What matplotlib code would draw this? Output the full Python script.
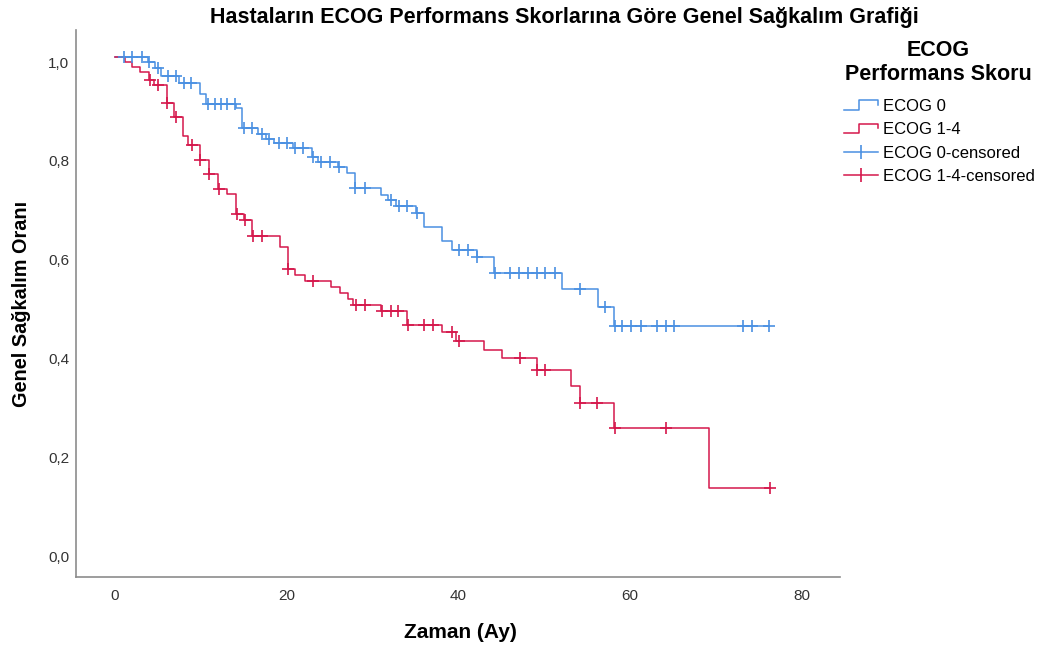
import numpy as np
import matplotlib
matplotlib.use("Agg")
import matplotlib.pyplot as plt
import matplotlib.transforms as mtransforms
from matplotlib.lines import Line2D
from matplotlib.legend_handler import HandlerBase

plt.rcParams['font.family'] = ['Liberation Sans', 'DejaVu Sans']

# Kaplan-Meier estimates per group: step times, survival after each step, censor times
ecog0_times = [3.9, 4.65, 5.4, 7.5, 9.9, 10.6, 14.1, 14.8, 16.7, 17.6, 18.5, 20.7, 22.9,
               23.6, 26.0, 27.0, 27.9, 31.0, 31.8, 32.7, 35.0, 36.0, 38.1, 39.2, 42.1,
               44.1, 52.1, 56.2, 58.1]
ecog0_surv = [0.989, 0.977, 0.962, 0.948, 0.925, 0.905, 0.897, 0.857, 0.845, 0.835, 0.826,
              0.816, 0.798, 0.788, 0.778, 0.766, 0.734, 0.721, 0.711, 0.698, 0.685, 0.655,
              0.627, 0.609, 0.595, 0.563, 0.531, 0.494, 0.455]
ecog0_censored = [1.0, 2.0, 3.1, 4.0, 5.0, 6.2, 7.1, 8.0, 8.9, 10.85, 11.6, 12.4, 13.0, 14.0,
                  15.0, 16.0, 17.1, 17.9, 19.1, 20.0, 21.0, 21.9, 23.1, 24.0, 25.0, 26.1,
                  28.0, 29.1, 32.2, 33.1, 34.0, 35.2, 40.1, 41.1, 42.2, 44.2, 46.0, 47.1,
                  48.1, 49.1, 50.1, 51.2, 54.2, 57.1, 58.2, 59.1, 60.1, 61.2, 63.1, 64.2,
                  65.1, 73.1, 74.2, 76.2]

ecog14_times = [1.2, 2.0, 2.9, 4.0, 4.6, 6.0, 6.9, 7.9, 8.5, 9.9, 10.9, 12.0, 13.0, 14.1,
                15.0, 16.0, 19.2, 20.1, 21.0, 22.1, 25.1, 26.2, 27.1, 27.7, 31.0, 34.0,
                38.1, 39.7, 43.0, 45.1, 49.1, 53.1, 54.1, 58.1, 69.2]
ecog14_surv = [0.990, 0.980, 0.970, 0.953, 0.943, 0.907, 0.878, 0.840, 0.822, 0.792, 0.763,
               0.733, 0.723, 0.683, 0.670, 0.638, 0.616, 0.571, 0.559, 0.547, 0.534, 0.522,
               0.510, 0.498, 0.486, 0.458, 0.443, 0.426, 0.407, 0.390, 0.366, 0.334, 0.300,
               0.250, 0.127]
ecog14_censored = [4.1, 5.0, 6.1, 7.1, 9.0, 9.95, 11.0, 12.1, 14.2, 15.1, 16.1, 17.1, 20.2,
                   23.1, 28.1, 29.1, 31.1, 32.1, 33.0, 34.1, 36.0, 37.0, 39.2, 40.1, 47.2,
                   49.2, 50.1, 54.2, 56.1, 58.2, 64.2, 76.3]

group_labels = ['ECOG 0', 'ECOG 1-4']
group_colors = ['#4a90e2', '#d5174b']

x_ticks = [0, 20, 40, 60, 80]
y_ticks = [0.0, 0.2, 0.4, 0.6, 0.8, 1.0]


def km_curve(times, surv, censored):
    t = np.concatenate([[0.0], times, [max(censored)]])
    s = np.concatenate([[1.0], surv, [surv[-1]]])
    idx = np.searchsorted(times, censored, side='right')
    s_c = np.concatenate([[1.0], surv])[idx]
    return t, s, np.asarray(censored), s_c


class StepHandler(HandlerBase):
    def create_artists(self, legend, orig_handle, xdescent, ydescent, width, height,
                       fontsize, trans):
        x0, y0 = -xdescent, -ydescent
        lo, hi = y0 + height * 0.05, y0 + height * 0.95
        xs = [x0, x0 + width * 0.45, x0 + width * 0.45, x0 + width, x0 + width]
        ys = [lo, lo, hi, hi, y0 + height * 0.5]
        ln = Line2D(xs, ys, color=orig_handle.get_color(), lw=1.1, transform=trans)
        return [ln]


fig = plt.figure(figsize=(10.46, 6.52), dpi=100)
ax = fig.add_axes([76 / 1046, 1 - 577 / 652, (840 - 76) / 1046, (577 - 30) / 652])

groups = [(ecog0_times, ecog0_surv, ecog0_censored),
          (ecog14_times, ecog14_surv, ecog14_censored)]
for (tm, sv, cz), color in zip(groups, group_colors):
    t, s, tc, sc = km_curve(tm, sv, cz)
    ax.step(t, s, where='post', color=color, lw=1.1, zorder=2)
    ax.plot(tc, sc, linestyle='none', marker='+', markersize=8, mew=1.2, color=color,
            zorder=3)

ax.set_xlim(-4.54, 84.43)
ax.set_ylim(-0.0526, 1.0547)
ax.set_xticks(x_ticks)
ax.set_yticks(y_ticks)
ax.set_xticklabels([str(v) for v in x_ticks])
ax.set_yticklabels([f"{v:.1f}".replace('.', ',') for v in y_ticks])
ax.tick_params(length=0, labelsize=11, colors='#333333')
ax.tick_params(axis='x', pad=9)
ax.tick_params(axis='y', pad=5)
shift_down = mtransforms.ScaledTranslation(0, -5 / 100, fig.dpi_scale_trans)
for lab in ax.get_yticklabels():
    lab.set_transform(lab.get_transform() + shift_down)
for side in ['top', 'right']:
    ax.spines[side].set_visible(False)
for side in ['left', 'bottom']:
    ax.spines[side].set_color('#8c8c8c')
    ax.spines[side].set_linewidth(1.2)

fig.text(22 / 1046, 1 - 304 / 652, 'Genel Sağkalım Oranı', rotation=90, ha='center',
         va='center', fontsize=14.3, fontweight='bold')
fig.text(460 / 1046, 1 - 632 / 652, 'Zaman (Ay)', ha='center', va='center', fontsize=15,
         fontweight='bold')
fig.text(564 / 1046, 1 - 17 / 652,
         'Hastaların ECOG Performans Skorlarına Göre Genel Sağkalım Grafiği',
         ha='center', va='center', fontsize=15.5, fontweight='bold')

# legend heading
fig.text(938 / 1046, 1 - 51 / 652, 'ECOG', ha='center', va='center', fontsize=15.5,
         fontweight='bold')
fig.text(938 / 1046, 1 - 75 / 652, 'Performans Skoru', ha='center', va='center',
         fontsize=15.5, fontweight='bold')

handles = [Line2D([], [], color=group_colors[0]),
           Line2D([], [], color=group_colors[1]),
           Line2D([], [], color=group_colors[0], marker='|', markersize=10, mew=1.2, lw=1.1),
           Line2D([], [], color=group_colors[1], marker='|', markersize=10, mew=1.2, lw=1.1)]
labels = [group_labels[0], group_labels[1],
          group_labels[0] + '-censored', group_labels[1] + '-censored']
leg = fig.legend(handles, labels, loc='upper left', bbox_to_anchor=(844 / 1046, 1 - 99 / 652),
                 frameon=False, fontsize=12, borderpad=0, borderaxespad=0,
                 handler_map={handles[0]: StepHandler(), handles[1]: StepHandler()},
                 handlelength=2.05, handleheight=0.6, handletextpad=0.3,
                 labelspacing=0.5, numpoints=1)

fig.savefig('out.png', dpi=100)
